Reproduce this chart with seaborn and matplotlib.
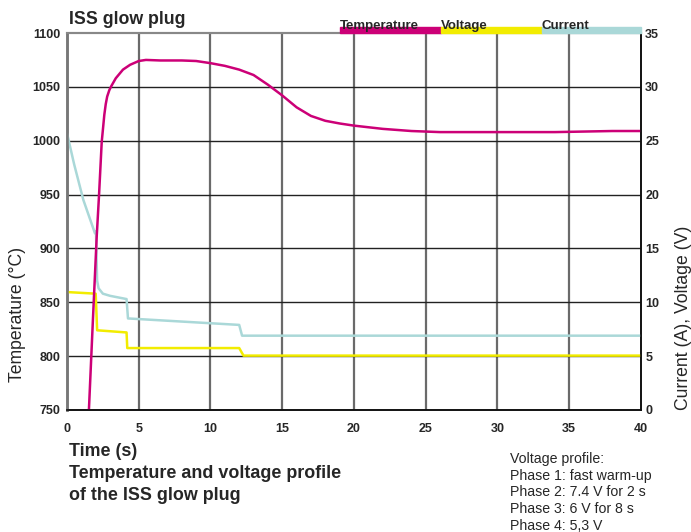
import matplotlib
matplotlib.use("Agg")
import matplotlib.pyplot as plt
import seaborn as sns
import pandas as pd

# ---- data ----
temp_t = [1.50, 1.80, 2.07, 2.23, 2.42, 2.50, 2.60, 2.70, 2.80, 2.95, 3.10, 3.40, 3.90, 4.40, 5.0, 5.5,
          6.5, 8, 9, 10, 11, 12, 13, 14, 15, 16, 17, 18, 19, 20, 22, 24, 26, 28, 30, 32, 34, 36, 38, 40]
temp_v = [742, 832, 911, 949, 999, 1010, 1024, 1034, 1041, 1047, 1051, 1058, 1066, 1070.5, 1074, 1075,
          1074.5, 1074.5, 1074, 1072, 1069.5, 1066, 1061, 1052, 1042, 1031, 1023, 1018.5, 1016, 1014,
          1011, 1009, 1008, 1008, 1008, 1008, 1008, 1008.5, 1009, 1009]

cur_t = [0, 0.5, 1.14, 1.95, 2.02, 2.06, 2.1, 2.2, 2.5, 3.0, 4.15, 4.25, 12.0, 12.2, 40]
cur_v = [25.7, 22.8, 19.5, 16.4, 16.6, 14.0, 12.0, 11.3, 10.8, 10.6, 10.3, 8.5, 7.9, 6.9, 6.9]

volt_t = [0, 2.0, 2.1, 4.15, 4.2, 12.0, 12.3, 40]
volt_v = [10.95, 10.8, 7.4, 7.2, 5.75, 5.75, 5.05, 5.05]

x_ticks = [0, 5, 10, 15, 20, 25, 30, 35, 40]
left_ticks = [750, 800, 850, 900, 950, 1000, 1050, 1100]
right_ticks = [0, 5, 10, 15, 20, 25, 30, 35]

legend_names = ["Temperature", "Voltage", "Current"]
c_temp, c_volt, c_cur = "#cc0077", "#f2ec00", "#aad8d8"
legend_colors = [c_temp, c_volt, c_cur]

profile_lines = ["Voltage profile:", "Phase 1: fast warm-up", "Phase 2: 7.4 V for 2 s",
                 "Phase 3: 6 V for 8 s", "Phase 4: 5,3 V"]

# ---- style ----
sns.set_theme(style="white")
FONT = ["Liberation Sans", "DejaVu Sans"]
plt.rcParams["font.family"] = FONT

fig = plt.figure(figsize=(6.91, 5.32), dpi=100)
ax = fig.add_axes([67/691, 1-410/532, (641-67)/691, (410-33)/532])
ax2 = ax.twinx()

df_t = pd.DataFrame({"t": temp_t, "v": temp_v})
df_c = pd.DataFrame({"t": cur_t, "v": cur_v})
df_v = pd.DataFrame({"t": volt_t, "v": volt_v})

ax.set_xlim(0, 40)
ax.set_ylim(750, 1100)
ax2.set_ylim(0, 35)

# grid (drawn on the lower axes so that every curve is above it)
for xv in x_ticks[1:-1]:
    ax2.axvline(xv, color="#6a6a6a", lw=1.6, zorder=0)
for yv in right_ticks[1:-1]:
    ax2.axhline(yv, color="#222222", lw=1.0, zorder=0)

sns.lineplot(data=df_v, x="t", y="v", ax=ax2, color=c_volt, lw=1.8, sort=False, estimator=None, zorder=3)
sns.lineplot(data=df_c, x="t", y="v", ax=ax2, color=c_cur, lw=1.8, sort=False, estimator=None, zorder=3)
sns.lineplot(data=df_t, x="t", y="v", ax=ax, color=c_temp, lw=1.8, sort=False, estimator=None)
ax2.set_zorder(0)
ax.set_zorder(1)
ax.patch.set_visible(False)
ax2.patch.set_visible(True)
ax2.patch.set_facecolor("white")

ax.set_xticks(x_ticks)
ax.set_yticks(left_ticks)
ax2.set_yticks(right_ticks)
ax.set_xticklabels([str(v) for v in x_ticks], fontsize=9, fontweight="bold")
ax.set_yticklabels([str(v) for v in left_ticks], fontsize=9, fontweight="bold")
ax2.set_yticklabels([str(v) for v in right_ticks], fontsize=9, fontweight="bold")
ax.tick_params(axis="x", length=0, pad=9)
ax.tick_params(axis="y", length=0, pad=5)
ax2.tick_params(axis="y", length=0, pad=3)
ax.set_xlabel("")
ax.set_ylabel("")
ax2.set_xlabel("")
ax2.set_ylabel("")

for a in (ax, ax2):
    a.spines["left"].set_color("#777777")
    a.spines["left"].set_linewidth(1.8)
    a.spines["top"].set_color("#888888")
    a.spines["top"].set_linewidth(1.5)
    a.spines["bottom"].set_color("#111111")
    a.spines["bottom"].set_linewidth(1.2)
    a.spines["right"].set_color("#111111")
    a.spines["right"].set_linewidth(1.2)

# axis titles
fig.text(18/691, 1-314/532, "Temperature (°C)", rotation=90, ha="center", va="center", fontsize=12.7)
fig.text(683/691, 1-318/532, "Current (A), Voltage (V)", rotation=90, ha="center", va="center", fontsize=12.7)

# title
fig.text(69/691, 1-20/532, "ISS glow plug", ha="left", va="center", fontsize=12.8, fontweight="bold")

# legend bars above the axes
bar_x = [340, 441, 542, 641]
for i, (name, col) in enumerate(zip(legend_names, legend_colors)):
    x0, x1 = bar_x[i], bar_x[i + 1]
    fig.patches.append(plt.Rectangle((x0/691, 1-33/532), (x1-x0)/691, 6/532,
                                     transform=fig.transFigure, color=col, zorder=1))
    fig.text(x0/691, 1-29/532, name, ha="left", va="baseline", fontsize=9.5, fontweight="bold", zorder=3)

# bottom texts
fig.text(69/691, 1-452/532, "Time (s)", ha="left", va="center", fontsize=12.9, fontweight="bold")
fig.text(69/691, 1-474/532, "Temperature and voltage profile", ha="left", va="center", fontsize=12.9, fontweight="bold")
fig.text(69/691, 1-496/532, "of the ISS glow plug", ha="left", va="center", fontsize=12.9, fontweight="bold")

for i, line in enumerate(profile_lines):
    fig.text(510/691, 1-(459 + 16.7*i)/532, line, ha="left", va="center", fontsize=10.2)

fig.savefig("out.png", dpi=100)
